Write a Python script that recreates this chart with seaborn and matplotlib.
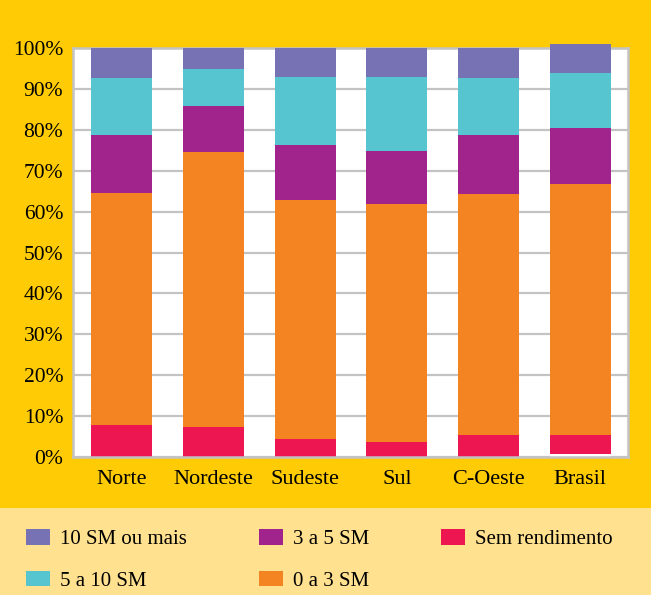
import matplotlib
matplotlib.use("Agg")
import matplotlib.pyplot as plt
from matplotlib.patches import Patch, Rectangle
import numpy as np
import pandas as pd
import seaborn as sns

# Distribuição da população por faixa de rendimento (em % do total)
regions = ["Norte", "Nordeste", "Sudeste", "Sul", "C-Oeste", "Brasil"]
base = [0, 0, 0, 0, 0, 0.8]
sem_rendimento = [7.8, 7.3, 4.4, 3.7, 5.4, 4.6]
de_0_a_3 = [56.7, 67.3, 58.4, 58.2, 58.9, 61.3]
de_3_a_5 = [14.2, 11.2, 13.5, 12.9, 14.4, 13.7]
de_5_a_10 = [14.0, 9.1, 16.6, 18.1, 14.0, 13.5]
mais_de_10 = [7.3, 5.1, 7.1, 7.1, 7.3, 7.1]

layer_names = ["Sem rendimento", "0 a 3 SM", "3 a 5 SM", "5 a 10 SM", "10 SM ou mais"]
layer_values = [sem_rendimento, de_0_a_3, de_3_a_5, de_5_a_10, mais_de_10]
layer_colors = ["#EE1651", "#F48322", "#A1248D", "#57C5D0", "#7772B4"]
yticks = list(range(0, 101, 10))

YELLOW = "#FFCB05"
LIGHT = "#FFE190"
GRID = "#C3C3C3"

sns.set_style("white")
plt.rcParams["font.family"] = ["Liberation Serif", "DejaVu Serif"]
plt.rcParams["text.color"] = "black"
plt.rcParams["xtick.color"] = "black"
plt.rcParams["ytick.color"] = "black"

df = pd.DataFrame({"regiao": regions, "base": base})
tops = np.array(base, dtype=float)
for name, vals in zip(layer_names, layer_values):
    tops = tops + np.array(vals, dtype=float)
    df[name] = tops

fig = plt.figure(figsize=(6.51, 5.95), dpi=100)
fig.patch.set_facecolor(YELLOW)
fig.patches.append(Rectangle((0, 0), 1, 87 / 595, transform=fig.transFigure,
                             facecolor=LIGHT, edgecolor="none", zorder=0))

ax = fig.add_axes([73 / 651, 1 - 457 / 595, 555 / 651, 409 / 595])
ax.set_facecolor("white")
ax.set_axisbelow(True)

# cumulative tops drawn from the highest layer down, then the blank base
for name, color in reversed(list(zip(layer_names, layer_colors))):
    sns.barplot(data=df, x="regiao", y=name, color=color, saturation=1,
                width=0.665, linewidth=0, clip_on=False, zorder=3, ax=ax)
sns.barplot(data=df, x="regiao", y="base", color="white", saturation=1,
            width=0.665, linewidth=0, clip_on=False, zorder=3, ax=ax)

ax.set_xlim(-0.53, 5.52)
ax.set_ylim(0, 100)
ax.set_yticks(yticks)
ax.set_yticklabels([f"{v}%" for v in yticks], fontsize=15.5)
ax.tick_params(axis="y", length=0, pad=7)
ax.tick_params(axis="x", length=0, pad=9.5, labelsize=16)
ax.set_xlabel("")
ax.set_ylabel("")
ax.yaxis.grid(True, color=GRID, linewidth=1.6)
for sp in ax.spines.values():
    sp.set_visible(True)
    sp.set_color(GRID)
    sp.set_linewidth(1.8)
    sp.set_zorder(2.5)
ax.spines["bottom"].set_zorder(4)

legend_order = [4, 3, 2, 1, 0]
handles = [Patch(facecolor=layer_colors[i], edgecolor="none") for i in legend_order]
labels = [layer_names[i] for i in legend_order]
fig.legend(handles, labels, ncol=3, loc="upper left",
           bbox_to_anchor=(26 / 651, 1 - 529 / 595), frameon=False,
           fontsize=15, borderpad=0, borderaxespad=0,
           handlelength=1.15, handleheight=0.77, handletextpad=0.48,
           columnspacing=3.45, labelspacing=1.05)

fig.savefig("out.png", dpi=100, facecolor=fig.get_facecolor())
